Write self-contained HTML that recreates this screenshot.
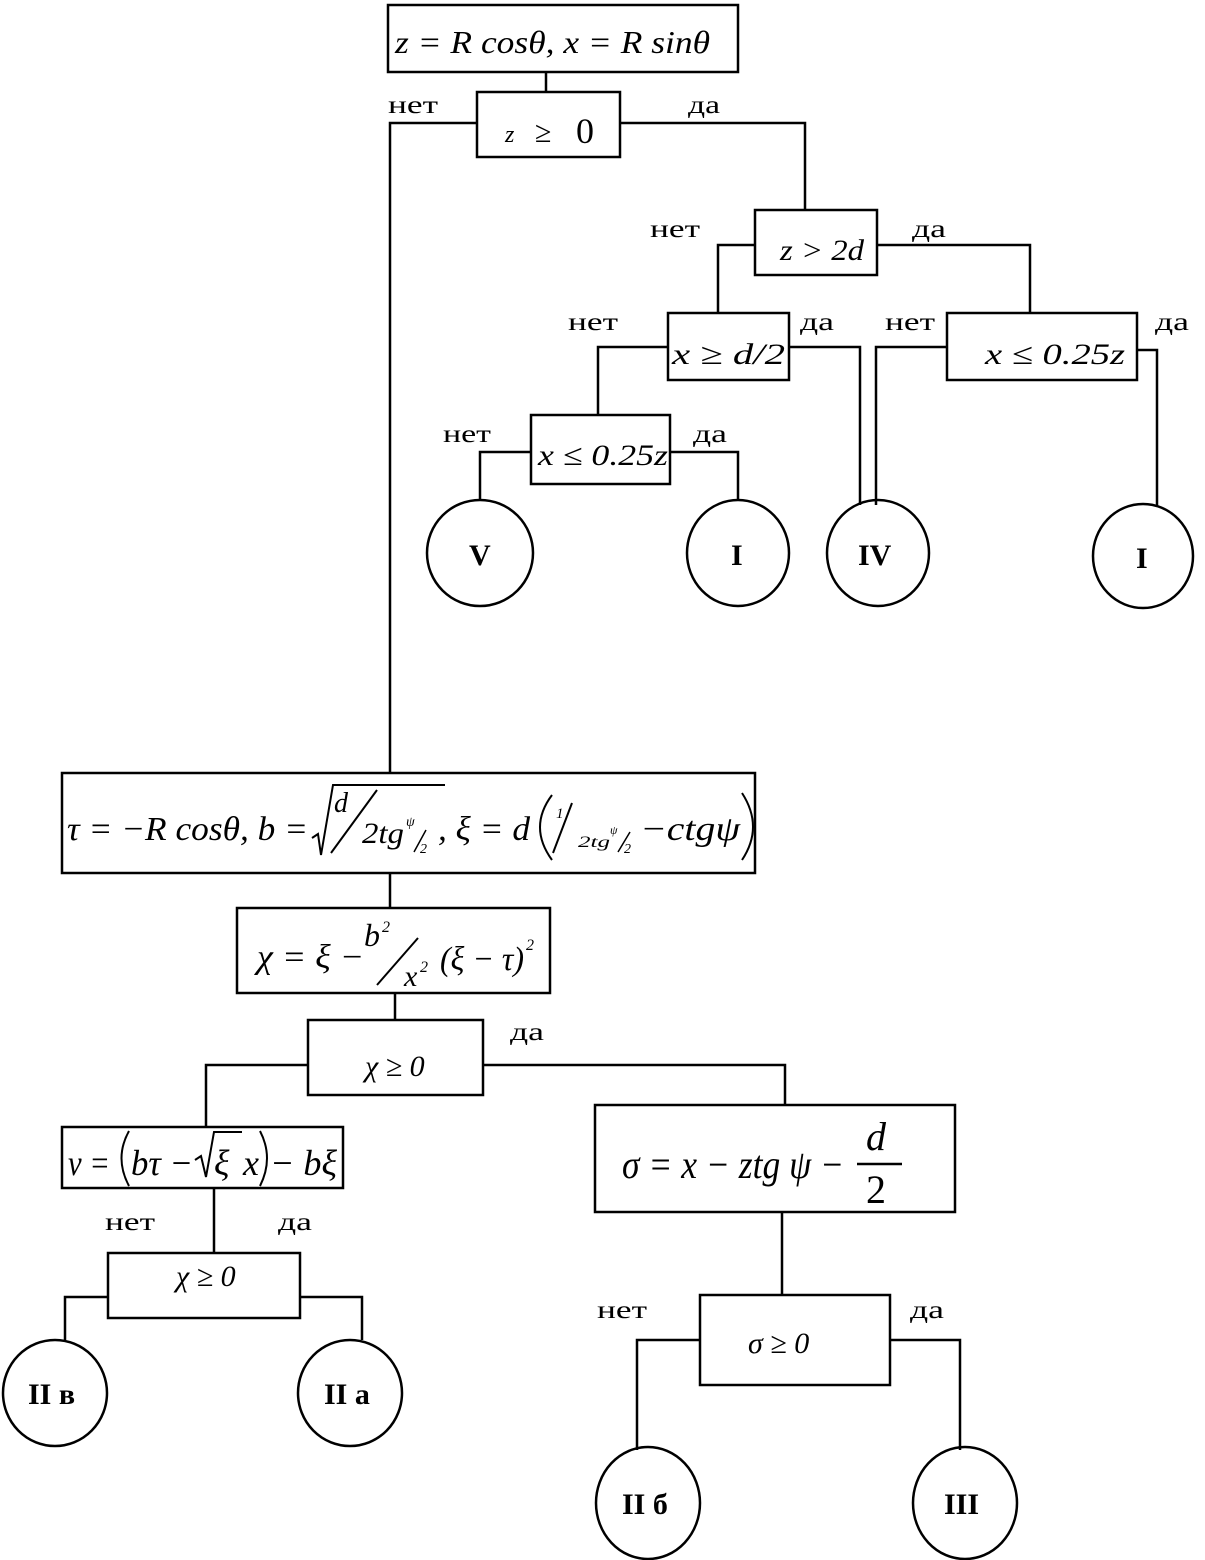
<!DOCTYPE html>
<html><head><meta charset="utf-8"><style>
html,body{margin:0;padding:0;background:#fff;}
svg{display:block}
text{font-family:"Liberation Serif",serif;fill:#000}
.m{font-style:italic}
.l{font-family:"Liberation Serif",serif;font-size:25px}
.c{font-weight:bold;font-size:30px}
</style></head><body>
<svg width="1205" height="1560" viewBox="0 0 1205 1560" xmlns="http://www.w3.org/2000/svg">
<g fill="none" stroke="#000" stroke-width="2.5">
<rect x="388" y="5" width="350" height="67"/>
<rect x="477" y="92" width="143" height="65"/>
<rect x="755" y="210" width="122" height="65"/>
<rect x="668" y="313" width="121" height="67"/>
<rect x="947" y="313" width="190" height="67"/>
<rect x="531" y="415" width="139" height="69"/>
<rect x="62" y="773" width="693" height="100"/>
<rect x="237" y="908" width="313" height="85"/>
<rect x="308" y="1020" width="175" height="75"/>
<rect x="62" y="1127" width="281" height="61"/>
<rect x="108" y="1253" width="192" height="65"/>
<rect x="595" y="1105" width="360" height="107"/>
<rect x="700" y="1295" width="190" height="90"/>
<polyline points="546,72 546,92"/>
<polyline points="477,123 390,123 390,773"/>
<polyline points="620,123 805,123 805,210"/>
<polyline points="755,245 718,245 718,313"/>
<polyline points="877,245 1030,245 1030,313"/>
<polyline points="668,347 598,347 598,415"/>
<polyline points="789,347 860,347 860,505"/>
<polyline points="947,347 876,347 876,505"/>
<polyline points="1137,350 1157,350 1157,505"/>
<polyline points="531,452 480,452 480,500"/>
<polyline points="670,452 738,452 738,500"/>
<polyline points="390,873 390,908"/>
<polyline points="395,993 395,1020"/>
<polyline points="308,1065 206,1065 206,1127"/>
<polyline points="483,1065 785,1065 785,1105"/>
<polyline points="214,1188 214,1253"/>
<polyline points="108,1297 65,1297 65,1340"/>
<polyline points="300,1297 362,1297 362,1340"/>
<polyline points="782,1212 782,1295"/>
<polyline points="700,1340 637,1340 637,1450"/>
<polyline points="890,1340 960,1340 960,1450"/>
<ellipse cx="480" cy="553" rx="53" ry="53"/>
<ellipse cx="738" cy="553" rx="51" ry="53"/>
<ellipse cx="878" cy="553" rx="51" ry="53"/>
<ellipse cx="1143" cy="556" rx="50" ry="52"/>
<ellipse cx="55" cy="1393" rx="52" ry="53"/>
<ellipse cx="350" cy="1393" rx="52" ry="53"/>
<ellipse cx="648" cy="1503" rx="52" ry="56"/>
<ellipse cx="965" cy="1503" rx="52" ry="56"/>
<path d="M312,838 L318,834 L321,855 L333,785 L445,785" stroke-width="2"/>
<path d="M331,853 L377,790" stroke-width="2"/>
<path d="M553,853 L572,803" stroke-width="2"/>
<path d="M552,795 Q528,827 552,860" stroke-width="2"/>
<path d="M742,793 Q764,827 742,860" stroke-width="2"/>
<path d="M377,985 L418,938" stroke-width="2"/>
<path d="M195,1160 L201,1156 L206,1177 L214,1132 L242,1132" stroke-width="2"/>
<path d="M129,1131 Q114,1158 129,1186" stroke-width="2"/>
<path d="M260,1131 Q274,1158 260,1186" stroke-width="2"/>
<line x1="857" y1="1164" x2="902" y2="1164" stroke-width="2.5"/>
</g>
<text class="m" x="395" y="53" textLength="315" lengthAdjust="spacingAndGlyphs" font-size="32">z = R cosθ, x = R sinθ</text>
<text class="m" x="505" y="142" font-size="24">z</text>
<text x="535" y="142" font-size="30">≥</text>
<text x="576" y="143" font-size="36">0</text>
<text class="m" x="780" y="260" font-size="30" textLength="84" lengthAdjust="spacingAndGlyphs">z &gt; 2d</text>
<text class="m" x="672" y="364" font-size="30" textLength="113" lengthAdjust="spacingAndGlyphs">x ≥ d/2</text>
<text class="m" x="985" y="364" font-size="30" textLength="140" lengthAdjust="spacingAndGlyphs">x ≤ 0.25z</text>
<text class="m" x="538" y="465" font-size="30" textLength="130" lengthAdjust="spacingAndGlyphs">x ≤ 0.25z</text>
<text class="l" x="388" y="113" textLength="50" lengthAdjust="spacingAndGlyphs">нет</text>
<text class="l" x="688" y="113" textLength="32" lengthAdjust="spacingAndGlyphs">да</text>
<text class="l" x="650" y="237" textLength="50" lengthAdjust="spacingAndGlyphs">нет</text>
<text class="l" x="912" y="237" textLength="34" lengthAdjust="spacingAndGlyphs">да</text>
<text class="l" x="568" y="330" textLength="50" lengthAdjust="spacingAndGlyphs">нет</text>
<text class="l" x="800" y="330" textLength="34" lengthAdjust="spacingAndGlyphs">да</text>
<text class="l" x="885" y="330" textLength="50" lengthAdjust="spacingAndGlyphs">нет</text>
<text class="l" x="1155" y="330" textLength="34" lengthAdjust="spacingAndGlyphs">да</text>
<text class="l" x="443" y="442" textLength="48" lengthAdjust="spacingAndGlyphs">нет</text>
<text class="l" x="693" y="442" textLength="34" lengthAdjust="spacingAndGlyphs">да</text>
<text class="l" x="510" y="1040" textLength="34" lengthAdjust="spacingAndGlyphs">да</text>
<text class="l" x="105" y="1230" textLength="50" lengthAdjust="spacingAndGlyphs">нет</text>
<text class="l" x="278" y="1230" textLength="34" lengthAdjust="spacingAndGlyphs">да</text>
<text class="l" x="597" y="1318" textLength="50" lengthAdjust="spacingAndGlyphs">нет</text>
<text class="l" x="910" y="1318" textLength="34" lengthAdjust="spacingAndGlyphs">да</text>
<text class="c" x="469" y="565">V</text>
<text class="c" x="731" y="565">I</text>
<text class="c" x="858" y="565">IV</text>
<text class="c" x="1136" y="568">I</text>
<text class="c" x="28" y="1404">II в</text>
<text class="c" x="324" y="1404">II а</text>
<text class="c" x="622" y="1514">II б</text>
<text class="c" x="944" y="1514">III</text>
<text class="m" x="67" y="840" font-size="34" textLength="241" lengthAdjust="spacingAndGlyphs">τ = −R cosθ, b =</text>
<text class="m" x="334" y="812" font-size="28">d</text>
<text class="m" x="362" y="843" font-size="30" textLength="42" lengthAdjust="spacingAndGlyphs">2tg</text>
<text class="m" x="406" y="826" font-size="14">ψ</text>
<text class="m" x="420" y="853" font-size="14">2</text>
<path d="M414,852 L426,830" stroke="#000" stroke-width="1.5" fill="none"/>
<text class="m" x="438" y="840" font-size="34" textLength="92" lengthAdjust="spacingAndGlyphs">, ξ = d</text>
<text class="m" x="556" y="818" font-size="15">1</text>
<text class="m" x="578" y="847" font-size="16" textLength="32" lengthAdjust="spacingAndGlyphs">2tg</text>
<text class="m" x="610" y="834" font-size="12">ψ</text>
<text class="m" x="624" y="853" font-size="14">2</text>
<path d="M618,852 L630,832" stroke="#000" stroke-width="1.5" fill="none"/>
<text class="m" x="640" y="840" font-size="34" textLength="100" lengthAdjust="spacingAndGlyphs">−ctgψ</text>
<text class="m" x="257" y="968" font-size="34" textLength="107" lengthAdjust="spacingAndGlyphs">χ = ξ −</text>
<text class="m" x="364" y="946" font-size="32">b</text>
<text class="m" x="382" y="932" font-size="16">2</text>
<text class="m" x="404" y="986" font-size="30">x</text>
<text class="m" x="420" y="972" font-size="16">2</text>
<text class="m" x="440" y="970" font-size="34" textLength="84" lengthAdjust="spacingAndGlyphs">(ξ − τ)</text>
<text class="m" x="526" y="950" font-size="16">2</text>
<text class="m" x="365" y="1076" font-size="30">χ ≥ 0</text>
<text class="m" x="68" y="1175" font-size="36" textLength="42" lengthAdjust="spacingAndGlyphs">ν =</text>
<text class="m" x="131" y="1175" font-size="36" textLength="62" lengthAdjust="spacingAndGlyphs">bτ −</text>
<text class="m" x="214" y="1175" font-size="36">ξ</text>
<text class="m" x="243" y="1175" font-size="36">x</text>
<text class="m" x="270" y="1175" font-size="36" textLength="67" lengthAdjust="spacingAndGlyphs">− bξ</text>
<text class="m" x="176" y="1286" font-size="30">χ ≥ 0</text>
<text class="m" x="622" y="1178" font-size="40" textLength="222" lengthAdjust="spacingAndGlyphs">σ = x − ztg ψ −</text>
<text class="m" x="866" y="1150" font-size="40">d</text>
<text x="866" y="1203" font-size="40">2</text>
<text class="m" x="748" y="1353" font-size="30">σ ≥ 0</text>
</svg>
</body></html>
